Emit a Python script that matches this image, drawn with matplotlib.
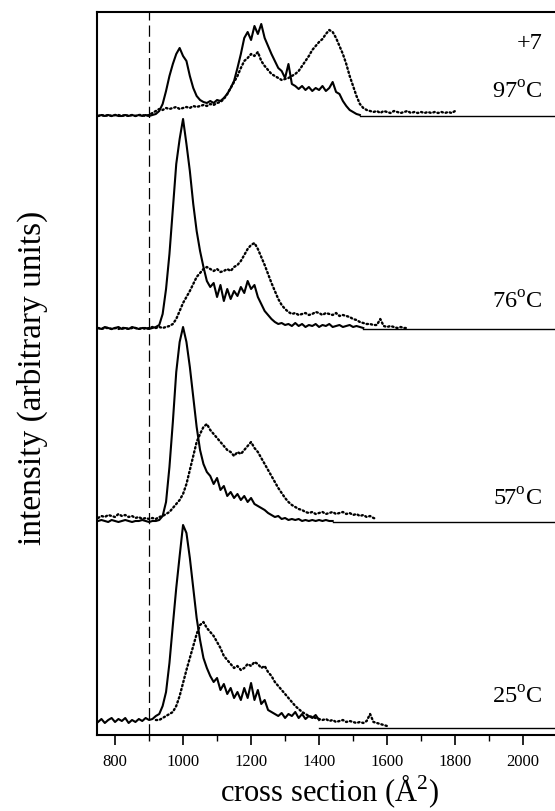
import numpy as np
import matplotlib.pyplot as plt

plt.rcParams["font.family"] = ["Liberation Serif", "DejaVu Serif"]
plt.rcParams["mathtext.fontset"] = "custom"
plt.rcParams["mathtext.rm"] = "Liberation Serif"

step = 10

# 97 C
x97s_start = 750
y97_solid = [0, 1, 0, 1, 0, 1, 0, 0, 1, 0, 1, 0, 1, 0, 1, 0, 1, 2,
             5, 12, 25, 40, 52, 62, 68, 60, 55, 40, 28, 20, 16, 14, 13, 15, 13, 16, 15, 18,
             22, 28, 35, 48, 62, 78, 84, 76, 90, 82, 92, 78, 70, 62, 55, 48, 45, 38,
             52, 32, 30, 27, 30, 26, 29, 25, 28, 26, 30, 25, 28, 34, 24, 22, 15, 10,
             6, 4, 2, 1]
x97d_start = 750
y97_dot = [0, 1, 0, 1, 0, 1, 1, 0, 1, 0, 1, 0, 1, 1, 0, 1,
           3, 5, 7, 6, 8, 7, 8, 9, 7, 8, 9, 8, 10, 9, 10, 11, 10, 12, 11, 13, 14, 17,
           22, 28, 34, 40, 48, 55, 58, 62, 60, 64, 55, 50, 46, 42, 40, 38, 36, 37,
           38, 40, 42, 45, 50, 55, 60, 66, 70, 74, 77, 82, 86, 84, 78, 70, 62, 52,
           40, 30, 20, 12, 8, 6, 5, 4, 5, 3, 5, 4, 3, 5, 4, 3, 4, 5, 3, 4, 3, 4, 3,
           4, 3, 4, 3, 4, 3, 4, 3, 5]

# 76 C
x76s_start = 750
y76_solid = [1, 0, 2, 1, 0, 1, 2, 0, 1, 0, 2, 1, 0, 1, 1, 0, 1, 2,
             4, 15, 40, 75, 120, 165, 190, 210, 185, 158, 125, 98, 78, 62, 48, 42, 46,
             32, 44, 28, 40, 30, 38, 33, 42, 36, 48, 40, 44, 32, 25, 18, 14, 10, 7, 5,
             6, 4, 5, 3, 6, 3, 5, 2, 4, 3, 5, 2, 4, 3, 5, 2, 3, 4, 2, 3, 4, 2, 3, 2, 1]
x76d_start = 750
y76_dot = [1, 0, 1, 1, 0, 1, 0, 1, 1, 0, 1, 1, 0, 1, 0, 1, 2, 1, 2, 1, 2, 3, 5,
           10, 18, 26, 32, 38, 45, 52, 56, 60, 62, 60, 58, 60, 57, 58, 60, 58, 62,
           64, 68, 74, 80, 84, 86, 80, 72, 64, 55, 46, 38, 30, 24, 20, 17, 15, 16,
           14, 15, 16, 14, 15, 17, 16, 14, 16, 15, 14, 16, 13, 14, 13, 12, 10, 9, 7,
           6, 5, 5, 4, 4, 10, 3, 2, 3, 2, 1, 2, 1, 1]

# 57 C
x57s_start = 750
y57_solid = [1, 2, 1, 0, 2, 1, 0, 1, 2, 1, 0, 1, 1, 2, 1, 0, 1, 1, 2,
             6, 20, 55, 100, 150, 180, 195, 180, 155, 125, 95, 72, 58, 50, 46, 38,
             44, 32, 36, 26, 30, 24, 28, 22, 26, 20, 24, 18, 16, 14, 12, 9, 7, 5, 6,
             3, 4, 2, 3, 2, 3, 1, 2, 1, 2, 1, 2, 1, 2, 1, 1]
x57d_start = 750
y57_dot = [4, 6, 5, 7, 6, 5, 8, 6, 7, 5, 6, 4, 5, 3, 4, 3, 4, 3, 5, 6, 8, 10,
           14, 18, 22, 28, 38, 52, 66, 80, 88, 95, 98, 92, 88, 84, 80, 76, 72, 70,
           66, 70, 68, 72, 76, 80, 74, 70, 64, 58, 52, 46, 40, 34, 29, 24, 20, 17,
           15, 13, 12, 10, 9, 10, 8, 9, 10, 8, 9, 10, 8, 9, 10, 8, 9, 7, 8, 6, 7, 5,
           6, 4, 3]

# 25 C
x25s_start = 750
y25_solid = [6, 9, 5, 8, 10, 6, 9, 7, 10, 5, 8, 6, 9, 7, 10, 8, 9, 12,
             14, 22, 36, 65, 103, 140, 172, 203, 195, 170, 140, 110, 88, 70, 60, 52,
             46, 50, 38, 44, 34, 40, 30, 36, 28, 40, 30, 45, 28, 38, 24, 28, 18, 16,
             14, 12, 15, 10, 14, 12, 16, 10, 14, 9, 12, 10, 13, 8]
x25d_start = 920
y25_dot = [8, 8, 10, 12, 14, 16, 22, 32, 45, 58, 70, 82, 94, 103, 106, 100, 96,
           92, 86, 80, 72, 68, 64, 60, 62, 58, 60, 64, 62, 66, 64, 60, 62, 56, 52,
           46, 42, 38, 34, 30, 26, 22, 19, 16, 14, 12, 11, 10, 9, 8, 9, 7, 8, 6, 7,
           8, 6, 7, 6, 5, 6, 5, 7, 14, 6, 5, 4, 3, 2]

labels = ["25$^{\\mathrm{o}}$C", "57$^{\\mathrm{o}}$C", "76$^{\\mathrm{o}}$C", "97$^{\\mathrm{o}}$C"]
offsets = [7, 213, 406, 619]
label_y = [38, 236, 433, 643]

traces = [
    (x25s_start, y25_solid, x25d_start, y25_dot),
    (x57s_start, y57_solid, x57d_start, y57_dot),
    (x76s_start, y76_solid, x76d_start, y76_dot),
    (x97s_start, y97_solid, x97d_start, y97_dot),
]

fig = plt.figure(figsize=(5.55, 8.12), dpi=100)
ax = fig.add_axes([0.1748, 0.0936, 0.829, 0.8904])
xmin, xmax = 747, 2100
ax.set_xlim(xmin, xmax)
ax.set_ylim(0, 723)

for (xs0, ys, xd0, yd), off, lab, ly in zip(traces, offsets, labels, label_y):
    xs = xs0 + step * np.arange(len(ys))
    xd = xd0 + step * np.arange(len(yd))
    ax.plot(xd, np.array(yd) + off, color="black", lw=1.7,
            linestyle=(0, (0.6, 1.2)), dash_capstyle="round")
    ax.plot(xs, np.array(ys) + off, color="black", lw=1.5)
    ax.plot([xs[-1], xmax], [off, off], color="black", lw=1.0)
    ax.text(2056, ly, lab, ha="right", va="center", fontsize=17.5)

ax.text(2056, 692, "+7", ha="right", va="center", fontsize=17.5)

ax.axvline(900, color="black", lw=0.9, dashes=(9, 4))

for s in ax.spines.values():
    s.set_linewidth(1.5)
ax.set_yticks([])
ax.set_xticks([800, 1000, 1200, 1400, 1600, 1800, 2000])
ax.set_xticks(np.arange(800, 2100, 100), minor=True)
ax.tick_params(axis="x", which="major", direction="out", length=7, width=1.2,
               labelsize=12, pad=6)
ax.tick_params(axis="x", which="minor", direction="out", length=4, width=1.0)

fig.text(330 / 555, 1 - 791 / 812, "cross section ($\\mathrm{\\AA}^2$)",
         fontsize=22, ha="center", va="center")
fig.text(32 / 555, 1 - 378 / 812, "intensity (arbitrary units)",
         fontsize=24, ha="center", va="center", rotation=90)

plt.savefig("out.png", dpi=100)
